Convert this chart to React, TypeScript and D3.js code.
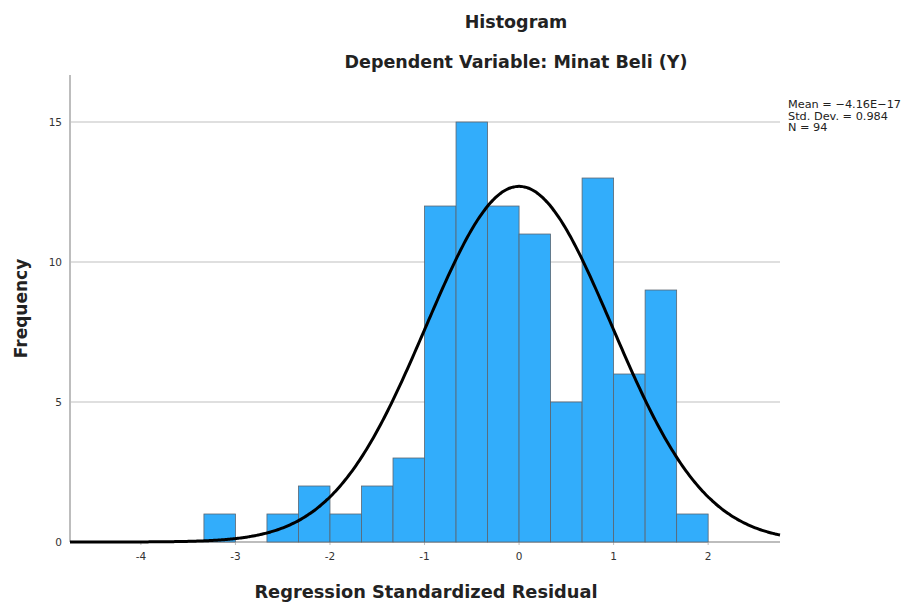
import React from 'react';
import * as d3 from 'd3';

// bins of width 1/3, from -10/3 to 2
const binStarts = [-10, -9, -8, -7, -6, -5, -4, -3, -2, -1, 0, 1, 2, 3, 4, 5].map(k => k / 3);
const binWidth = 1 / 3;
const counts = [1, 0, 1, 2, 1, 2, 3, 12, 15, 12, 11, 5, 13, 6, 9, 1];
const xTicks = [-4, -3, -2, -1, 0, 1, 2];
const yTicks = [0, 5, 10, 15];
const stats = ['Mean = \u22124.16E\u221217', 'Std. Dev. = 0.984', 'N = 94'];
const mean = -4.16e-17;
const sd = 0.984;
const n = 94;

const W = 911;
const H = 603;
const left = 70, right = 780, top = 75, bottom = 542;
const font = '"DejaVu Sans", sans-serif';

const App = () => {
  const x = d3.scaleLinear().domain([-4.75, 2.76]).range([left, right]);
  const y = d3.scaleLinear().domain([0, 16.68]).range([bottom, top]);

  const pdf = (v: number) =>
    (n * binWidth) / (sd * Math.sqrt(2 * Math.PI)) * Math.exp(-0.5 * ((v - mean) / sd) ** 2);
  const curvePts = d3.range(0, 401).map(i => {
    const v = x.domain()[0] + (i / 400) * (x.domain()[1] - x.domain()[0]);
    return [v, pdf(v)] as [number, number];
  });
  const line = d3.line<[number, number]>().x(d => x(d[0])).y(d => y(d[1])).curve(d3.curveBasis);

  return (
    <svg width={W} height={H} style={{ position: 'absolute', left: 0, top: 0, background: '#fff' }}>
      <text x={516} y={28} textAnchor="middle" fontFamily={font} fontWeight="bold" fontSize={17.5} fill="#222">Histogram</text>
      <text x={516} y={68} textAnchor="middle" fontFamily={font} fontWeight="bold" fontSize={17.5} fill="#222">Dependent Variable: Minat Beli (Y)</text>

      {yTicks.filter(t => t > 0).map(t => (
        <line key={t} x1={left} x2={right} y1={y(t)} y2={y(t)} stroke="#d4d4d4" strokeWidth={1.5} />
      ))}
      <line x1={left} x2={left} y1={top} y2={bottom} stroke="#bdbdbd" strokeWidth={2} />
      <line x1={left} x2={right} y1={bottom} y2={bottom} stroke="#bdbdbd" strokeWidth={2} />

      {yTicks.map(t => (
        <text key={t} x={left - 8} y={y(t)} dy="0.35em" textAnchor="end" fontFamily={font} fontSize={10.5} fill="#333">{t}</text>
      ))}
      {xTicks.map(t => (
        <g key={t}>
          <line x1={x(t)} x2={x(t)} y1={bottom} y2={bottom + 3} stroke="#bdbdbd" />
          <text x={x(t)} y={bottom + 18} textAnchor="middle" fontFamily={font} fontSize={10.5} fill="#333">{t < 0 ? '-' + Math.abs(t) : String(t)}</text>
        </g>
      ))}

      {binStarts.map((b, i) => counts[i] > 0 && (
        <rect key={i} x={x(b)} y={y(counts[i])} width={x(b + binWidth) - x(b)} height={y(0) - y(counts[i])}
          fill="#32adfb" stroke="#5a6570" strokeWidth={0.8} />
      ))}

      <path d={line(curvePts) || ''} fill="none" stroke="#000" strokeWidth={3} />

      {stats.map((s, i) => (
        <text key={i} x={788} y={108 + i * 11.5} fontFamily={font} fontSize={11.3} fill="#222">{s}</text>
      ))}

      <text x={0} y={0} transform={`translate(27,${(top + bottom) / 2}) rotate(-90)`} textAnchor="middle"
        fontFamily={font} fontWeight="bold" fontSize={17} fill="#222">Frequency</text>
      <text x={426} y={598} textAnchor="middle" fontFamily={font} fontWeight="bold" fontSize={17.8} fill="#222">Regression Standardized Residual</text>
    </svg>
  );
};

export default App;
